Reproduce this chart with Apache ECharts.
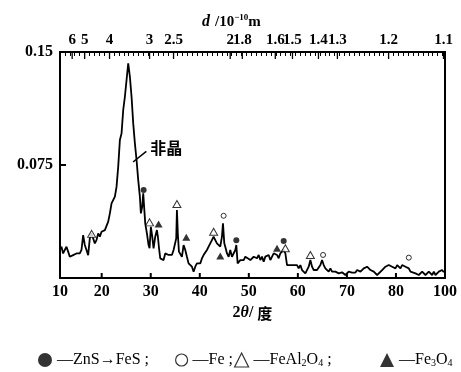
<!DOCTYPE html>
<html><head><meta charset="utf-8">
<script src="https://cdn.jsdelivr.net/npm/echarts@6/dist/echarts.min.js"></script>
<style>html,body{margin:0;padding:0;background:#fff}#c{width:461px;height:372px}</style>
</head><body><div id="c"></div>
<script>
// XRD pattern: [2θ (deg), intensity]
const pattern = [
[11.46,0.0186],[11.80,0.0208],[12.14,0.0163],[12.48,0.0186],[12.82,0.0208],[13.16,0.0175],[13.50,0.0141],[13.84,0.0130],[14.18,0.0152],[14.86,0.0163],
[15.54,0.0163],[15.88,0.0186],[16.22,0.0285],[16.56,0.0219],[16.90,0.0186],[17.24,0.0152],[17.58,0.0263],[17.92,0.0296],[18.26,0.0263],[18.60,0.0230],
[18.94,0.0252],[19.29,0.0296],[19.63,0.0274],[19.97,0.0307],[20.65,0.0318],[21.33,0.0374],[21.67,0.0429],[22.01,0.0495],[22.35,0.0506],[22.69,0.0540],
[23.03,0.0606],[23.37,0.0739],[23.71,0.0916],[24.05,0.0960],[24.39,0.1115],[24.73,0.1203],[25.07,0.1314],[25.41,0.1425],[25.75,0.1336],[26.09,0.1203],
[26.43,0.1026],[26.77,0.0894],[27.11,0.0783],[27.45,0.0650],[27.79,0.0540],[27.99,0.0429],[28.26,0.0473],[28.47,0.0562],[28.88,0.0363],[29.22,0.0296],
[29.56,0.0219],[29.76,0.0197],[30.03,0.0340],[30.31,0.0274],[30.58,0.0197],[30.92,0.0274],[31.26,0.0318],[31.46,0.0274],[31.73,0.0186],[31.94,0.0130],
[32.28,0.0119],[32.62,0.0119],[32.96,0.0163],[33.30,0.0175],[33.64,0.0153],[33.98,0.0163],[34.32,0.0153],[34.66,0.0186],[35.00,0.0197],[35.20,0.0263],
[35.34,0.0451],[35.54,0.0285],[35.75,0.0175],[36.02,0.0163],[36.36,0.0141],[36.70,0.0219],[37.04,0.0186],[37.38,0.0141],[37.72,0.0097],[38.06,0.0097],
[38.40,0.0075],[38.74,0.0042],[39.08,0.0075],[39.42,0.0097],[39.76,0.0086],[40.10,0.0097],[40.44,0.0130],[40.78,0.0152],[41.12,0.0141],[41.46,0.0186],
[41.80,0.0208],[42.14,0.0230],[42.48,0.0252],[42.82,0.0274],[43.16,0.0252],[43.50,0.0230],[43.84,0.0230],[44.18,0.0208],[44.52,0.0274],[44.73,0.0363],
[45.00,0.0230],[45.20,0.0208],[45.55,0.0163],[45.89,0.0141],[46.22,0.0186],[46.56,0.0141],[46.90,0.0152],[47.25,0.0186],[47.45,0.0219],[47.72,0.0097],
[48.27,0.0119],[48.61,0.0130],[48.95,0.0119],[49.29,0.0141],[49.63,0.0130],[50.31,0.0119],[50.99,0.0141],[51.33,0.0142],[51.67,0.0131],[52.01,0.0153],
[52.35,0.0119],[52.69,0.0142],[53.03,0.0108],[53.37,0.0142],[53.71,0.0131],[54.05,0.0153],[54.39,0.0119],[54.73,0.0108],[55.07,0.0164],[55.41,0.0175],
[55.75,0.0153],[56.09,0.0131],[56.43,0.0164],[56.77,0.0175],[57.11,0.0186],[57.45,0.0164],[57.79,0.0086],[58.13,0.0075],[58.47,0.0086],[58.81,0.0097],
[59.15,0.0086],[59.49,0.0097],[59.83,0.0086],[60.17,0.0064],[60.51,0.0086],[60.85,0.0053],[61.19,0.0042],[61.53,0.0031],[61.87,0.0042],[62.21,0.0075],
[62.55,0.0119],[62.89,0.0075],[63.23,0.0053],[63.57,0.0064],[63.91,0.0053],[64.25,0.0064],[64.59,0.0086],[64.93,0.0119],[65.27,0.0086],[65.61,0.0064],
[65.95,0.0053],[66.29,0.0042],[66.63,0.0064],[66.97,0.0042],[67.31,0.0031],[67.65,0.0042],[67.99,0.0053],[68.33,0.0031],[68.67,0.0020],[69.01,0.0038],
[69.35,0.0031],[69.69,0.0020],[70.03,0.0031],[70.37,0.0042],[70.71,0.0031],[71.05,0.0036],[71.40,0.0025],[71.74,0.0036],[72.08,0.0053],[72.76,0.0042],
[73.44,0.0064],[74.12,0.0075],[74.80,0.0053],[75.48,0.0042],[76.16,0.0020],[76.50,0.0031],[77.18,0.0053],[77.52,0.0064],[77.86,0.0075],[78.20,0.0064],
[78.54,0.0086],[79.22,0.0075],[79.56,0.0086],[79.90,0.0064],[80.24,0.0086],[80.58,0.0075],[80.92,0.0064],[81.26,0.0086],[81.60,0.0075],[81.94,0.0075],
[82.28,0.0086],[82.62,0.0064],[82.96,0.0042],[83.30,0.0038],[83.98,0.0031],[84.32,0.0042],[84.66,0.0020],[85.00,0.0031],[85.34,0.0042],[85.68,0.0031],
[86.02,0.0020],[86.36,0.0025],[86.70,0.0042],[87.04,0.0031],[87.38,0.0020],[87.72,0.0042],[88.06,0.0020],[88.40,0.0031],[88.74,0.0042],[89.08,0.0031],
[89.42,0.0053],[89.76,0.0038]
];
// phase markers [2θ, y]
const znsFesPts = [[28.55,0.0584],[47.45,0.0250],[57.11,0.0245]];
const fePts = [[44.86,0.0413],[65.14,0.0153],[82.62,0.0135]];
const feal2o4Pts = [[17.95,0.0293],[29.76,0.0369],[35.34,0.0491],[42.82,0.0307],[57.45,0.0197],[62.55,0.0153]];
const fe3o4Pts = [[31.60,0.0358],[37.25,0.0270],[44.18,0.0146],[55.75,0.0197]];
// axes
const xMin = 11.5, xMax = 90;
const xTickValues = [11.5,20,30,40,50,60,70,80,90];
const xTickLabels = ['10','20','30','40','50','60','70','80','100'];
const yTickValues = [0.075,0.15];
const yTickLabels = ['0.075','0.15'];
const dLabels = ['6','5','4','3','2.5','2','1.8','1.6','1.5','1.4','1.3','1.2','1.1'];
const dLabelPos = [13.98,16.53,21.6,29.76,34.65,46.2,48.67,55.4,58.9,64.2,68.06,78.5,89.7];
const note = {text:'非晶', from:[26.4,0.077], to:[29.1,0.084]};
const legendNames = ['ZnS→FeS','Fe','FeAl2O4','Fe3O4'];
const legendLeft = [33,170,229,375];

const SERIF = 'Liberation Serif';
const CJK = 'Noto Sans CJK SC';
function pick(vals, labels, v){
  let best = 0;
  for (let i=1;i<vals.length;i++) if (Math.abs(vals[i]-v) < Math.abs(vals[best]-v)) best = i;
  return labels[best];
}
const legendIcons = [
  {icon:'circle',itemStyle:{color:'#000',borderWidth:0}},
  {icon:'circle',itemStyle:{color:'#fff',borderColor:'#000',borderWidth:1.2}},
  {icon:'triangle',itemStyle:{color:'#fff',borderColor:'#000',borderWidth:1.2}},
  {icon:'triangle',itemStyle:{color:'#000',borderWidth:0}}
];
const legendText = {
  'ZnS→FeS':'{t|—ZnS→FeS ;}',
  'Fe':'{t|—Fe ;}',
  'FeAl2O4':'{t|—FeAl}{s|2}{t|O}{s|4}{t| ;}',
  'Fe3O4':'{t|—Fe}{s|3}{t|O}{s|4}'
};
const legends = legendNames.map((n,i)=>({
  top:347,left:legendLeft[i],itemWidth:i===1?12:14,itemHeight:i===1?12:14,
  data:[Object.assign({name:n},legendIcons[i])],
  formatter:nm=>legendText[nm],
  textStyle:{color:'#000',fontFamily:SERIF,fontSize:16,rich:{
    t:{fontFamily:SERIF,fontSize:16,color:'#000'},
    s:{fontFamily:SERIF,fontSize:10,color:'#000',verticalAlign:'bottom'}
  }}
}));
// tick marks drawn through the axis scales (custom series)
function tickSeries(values, yEdge, len, width){
  return {type:'custom',silent:true,z:6,xAxisIndex:0,yAxisIndex:0,clip:false,
    data:values.map(v=>[v]),encode:{x:0},
    renderItem:function(params, api){
      const p = api.coord([api.value(0), yEdge]);
      return {type:'line',shape:{x1:p[0],y1:p[1],x2:p[0],y2:p[1]+len},style:{stroke:'#000',lineWidth:width}};
    }};
}
const lineC = {color:'#000', width:2};
const chart = echarts.init(document.getElementById('c'));
chart.setOption({
  animation:false,
  backgroundColor:'#fff',
  grid:{left:60,right:16,top:52,bottom:94},
  title:{
    text:'{i|d} {n|/10}{sup|−10}{n|m}', left:197, top:8,
    textStyle:{rich:{
      i:{fontFamily:SERIF,fontStyle:'italic',fontWeight:'bold',fontSize:16,color:'#000'},
      n:{fontFamily:SERIF,fontWeight:'bold',fontSize:15,color:'#000'},
      sup:{fontFamily:SERIF,fontWeight:'bold',fontSize:9,color:'#000',verticalAlign:'top'}
    }}
  },
  legend:legends,
  xAxis:[
    {type:'value',min:xMin,max:xMax,position:'bottom',
     axisLine:{show:true,onZero:false,lineStyle:lineC},
     axisTick:{show:false},
     axisLabel:{customValues:xTickValues,formatter:v=>pick(xTickValues,xTickLabels,v),color:'#000',fontFamily:SERIF,fontWeight:'bold',fontSize:16,margin:6},
     splitLine:{show:false},
     name:'{n|2}{i|θ}{n|/ }{c|度}',nameLocation:'middle',nameGap:26,
     nameTextStyle:{rich:{
       n:{fontFamily:SERIF,fontWeight:'bold',fontSize:16,color:'#000'},
       i:{fontFamily:SERIF,fontStyle:'italic',fontWeight:'bold',fontSize:16,color:'#000'},
       c:{fontFamily:CJK,fontWeight:'bold',fontSize:15,color:'#000'}
     }}},
    {type:'value',min:xMin,max:xMax,position:'top',
     axisLine:{show:true,onZero:false,lineStyle:lineC},
     axisTick:{show:false},
     axisLabel:{customValues:dLabelPos,formatter:v=>pick(dLabelPos,dLabels,v),color:'#000',fontFamily:SERIF,fontWeight:'bold',fontSize:15,margin:4},
     splitLine:{show:false}},
    {type:'value',min:xMin,max:xMax,interval:1,position:'top',
     axisLine:{show:true,onZero:false,lineStyle:lineC},
     axisTick:{show:true,inside:true,length:4,lineStyle:{color:'#000',width:1}},
     axisLabel:{show:false},splitLine:{show:false}}
  ],
  yAxis:[
    {type:'value',min:0,max:0.15,interval:0.075,position:'left',
     axisLine:{show:true,onZero:false,lineStyle:lineC},
     axisTick:{show:true,inside:true,length:6,lineStyle:{color:'#000',width:2}},
     axisLabel:{customValues:yTickValues,formatter:v=>pick(yTickValues,yTickLabels,v),color:'#000',fontFamily:SERIF,fontWeight:'bold',fontSize:16,margin:7},
     splitLine:{show:false}},
    {type:'value',min:0,max:0.15,position:'right',
     axisLine:{show:true,onZero:false,lineStyle:lineC},
     axisTick:{show:false},axisLabel:{show:false},splitLine:{show:false}}
  ],
  series:[
    {type:'line',data:pattern,showSymbol:false,symbol:'none',lineStyle:{color:'#000',width:1.8},z:3,
     markLine:{silent:true,symbol:['none','none'],lineStyle:{color:'#000',width:1.5,type:'solid'},
       label:{show:true,position:'end',formatter:note.text,fontFamily:CJK,fontWeight:'bold',fontSize:16,color:'#000',distance:5,align:'left',verticalAlign:'middle'},
       data:[[{coord:note.from},{coord:note.to}]]}},
    {type:'scatter',name:legendNames[0],data:znsFesPts,symbol:'circle',symbolSize:6,itemStyle:{color:'#000'},z:4},
    {type:'scatter',name:legendNames[1],data:fePts,symbol:'circle',symbolSize:5,itemStyle:{color:'#fff',borderColor:'#000',borderWidth:1},z:4},
    {type:'scatter',name:legendNames[2],data:feal2o4Pts,symbol:'triangle',symbolSize:[8,7],itemStyle:{color:'#fff',borderColor:'#000',borderWidth:1},z:4},
    {type:'scatter',name:legendNames[3],data:fe3o4Pts,symbol:'triangle',symbolSize:[8,7],itemStyle:{color:'#000'},z:4},
    tickSeries(xTickValues.slice(1,-1), 0, -5, 2),
    tickSeries(dLabelPos, 0.15, 7, 1.3)
  ]
});
</script>
</body></html>
